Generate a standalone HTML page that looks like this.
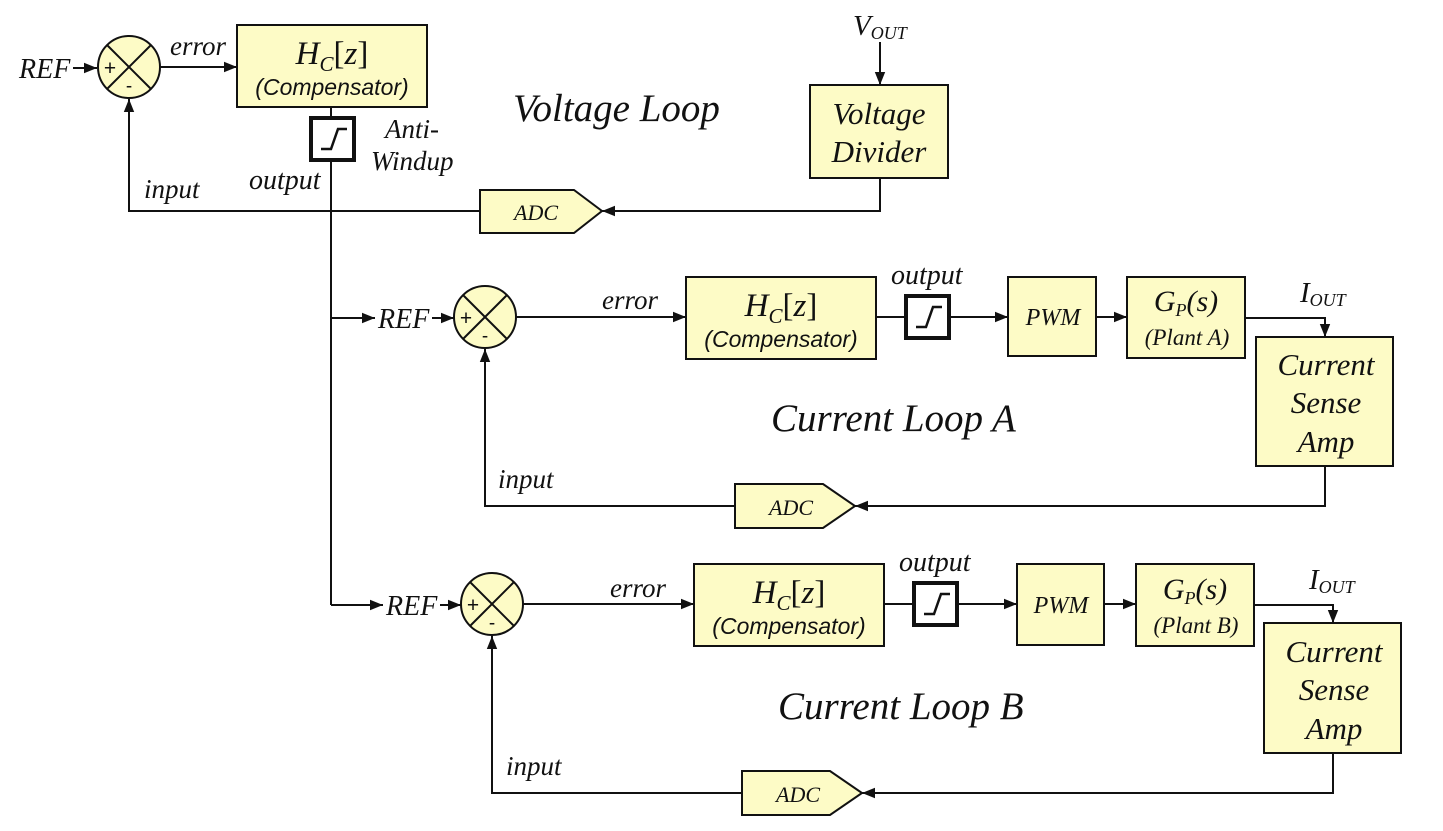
<!DOCTYPE html>
<html><head><meta charset="utf-8"><style>
html,body{margin:0;padding:0;background:#fff;}
svg{display:block;}
.b{fill:#fdfbc6;stroke:#111;stroke-width:2;}
.l{stroke:#111;stroke-width:2;fill:none;}
.t{font-family:"Liberation Serif",serif;font-style:italic;fill:#111;}
.s{font-family:"Liberation Sans",sans-serif;font-style:italic;fill:#111;}
</style></head><body>
<svg width="1443" height="831" viewBox="0 0 1443 831" xmlns="http://www.w3.org/2000/svg">
<defs>
<marker id="ab" viewBox="0 0 10 10" refX="10" refY="5" markerWidth="13" markerHeight="13" orient="auto" markerUnits="userSpaceOnUse"><path d="M0,1L10,5L0,9z" fill="#111"/></marker>
<g id="sum"><circle r="31" class="b"/><path class="l" d="M-22,-22L22,22M-22,22L22,-22"/>
<text x="-19" y="8" font-family="Liberation Sans,sans-serif" font-size="21" fill="#111" text-anchor="middle">+</text>
<text x="0" y="25" font-family="Liberation Sans,sans-serif" font-size="19" fill="#111" text-anchor="middle">-</text></g>
<g id="sat"><rect x="0" y="0" width="43" height="42" fill="#fff" stroke="#111" stroke-width="4"/><path d="M10,31H20L27,11H36" stroke="#111" stroke-width="2.5" fill="none"/></g>
<g id="comp"><rect width="190" height="82" class="b"/>
<text x="95" y="39" text-anchor="middle" font-family="Liberation Serif,serif" font-size="33" fill="#111"><tspan font-style="italic">H</tspan><tspan font-style="italic" font-size="21" dy="7">C</tspan><tspan dy="-7">[</tspan><tspan font-style="italic">z</tspan>]</text>
<text x="95" y="70" text-anchor="middle" class="s" font-size="23">(Compensator)</text></g>
</defs>

<!-- Voltage loop -->
<text x="19" y="78" class="t" font-size="28">REF</text>
<line x1="73" y1="68" x2="97" y2="68" class="l" marker-end="url(#ab)"/>
<use href="#sum" x="129" y="67"/>
<line x1="160" y1="67" x2="237" y2="67" class="l" marker-end="url(#ab)"/>
<text x="170" y="55" class="t" font-size="27">error</text>
<use href="#comp" x="237" y="25"/>
<line x1="331" y1="108" x2="331" y2="116" class="l"/>
<use href="#sat" x="311" y="118"/>
<text x="385" y="138" class="t" font-size="27">Anti-</text>
<text x="371" y="170" class="t" font-size="27">Windup</text>
<text x="249" y="189" class="t" font-size="28">output</text>
<text x="144" y="198" class="t" font-size="27">input</text>
<polyline points="480,211 129,211 129,99" class="l" marker-end="url(#ab)"/>
<path d="M480,190H574L602,211L574,233H480z" class="b"/>
<text x="536" y="220" text-anchor="middle" class="t" font-size="22">ADC</text>
<polyline points="880,178 880,211 602,211" class="l" marker-end="url(#ab)"/>
<rect x="810" y="85" width="138" height="93" class="b"/>
<text x="879" y="124" text-anchor="middle" class="t" font-size="31">Voltage</text>
<text x="879" y="162" text-anchor="middle" class="t" font-size="31">Divider</text>
<text x="853" y="35" class="t" font-size="29">V<tspan font-size="18" dy="4">OUT</tspan></text>
<line x1="880" y1="42" x2="880" y2="85" class="l" marker-end="url(#ab)"/>
<text x="513" y="121" class="t" font-size="39">Voltage Loop</text>

<line x1="331" y1="160" x2="331" y2="605" class="l"/>

<!-- Loop A -->
<line x1="331" y1="318" x2="375" y2="318" class="l" marker-end="url(#ab)"/>
<text x="378" y="328" class="t" font-size="28">REF</text>
<line x1="432" y1="318" x2="454" y2="318" class="l" marker-end="url(#ab)"/>
<use href="#sum" x="485" y="317"/>
<line x1="516" y1="317" x2="686" y2="317" class="l" marker-end="url(#ab)"/>
<text x="602" y="309" class="t" font-size="27">error</text>
<use href="#comp" x="686" y="277"/>
<line x1="876" y1="317" x2="906" y2="317" class="l"/>
<use href="#sat" x="906" y="296"/>
<text x="891" y="284" class="t" font-size="28">output</text>
<line x1="950" y1="317" x2="1008" y2="317" class="l" marker-end="url(#ab)"/>
<rect x="1008" y="277" width="88" height="79" class="b"/>
<text x="1053" y="325" text-anchor="middle" class="t" font-size="24">PWM</text>
<line x1="1096" y1="317" x2="1127" y2="317" class="l" marker-end="url(#ab)"/>
<rect x="1127" y="277" width="118" height="81" class="b"/>
<text x="1186" y="311" text-anchor="middle" class="t" font-size="30">G<tspan font-size="18" dy="5">P</tspan><tspan dy="-5">(s)</tspan></text>
<text x="1187" y="345" text-anchor="middle" class="t" font-size="23">(Plant A)</text>
<polyline points="1245,318 1325,318 1325,337" class="l" marker-end="url(#ab)"/>
<text x="1300" y="302" class="t" font-size="29">I<tspan font-size="18" dy="4">OUT</tspan></text>
<rect x="1256" y="337" width="137" height="129" class="b"/>
<text x="1326" y="375" text-anchor="middle" class="t" font-size="31">Current</text>
<text x="1326" y="413" text-anchor="middle" class="t" font-size="31">Sense</text>
<text x="1326" y="452" text-anchor="middle" class="t" font-size="31">Amp</text>
<polyline points="1325,466 1325,506 855,506" class="l" marker-end="url(#ab)"/>
<path d="M735,484H823L855,506L823,528H735z" class="b"/>
<text x="791" y="515" text-anchor="middle" class="t" font-size="22">ADC</text>
<polyline points="735,506 485,506 485,349" class="l" marker-end="url(#ab)"/>
<text x="498" y="488" class="t" font-size="27">input</text>
<text x="771" y="431" class="t" font-size="39">Current Loop A</text>

<!-- Loop B -->
<line x1="331" y1="605" x2="383" y2="605" class="l" marker-end="url(#ab)"/>
<text x="386" y="615" class="t" font-size="28">REF</text>
<line x1="440" y1="605" x2="461" y2="605" class="l" marker-end="url(#ab)"/>
<use href="#sum" x="492" y="604"/>
<line x1="523" y1="604" x2="694" y2="604" class="l" marker-end="url(#ab)"/>
<text x="610" y="597" class="t" font-size="27">error</text>
<use href="#comp" x="694" y="564"/>
<line x1="884" y1="604" x2="914" y2="604" class="l"/>
<use href="#sat" x="914" y="583"/>
<text x="899" y="571" class="t" font-size="28">output</text>
<line x1="958" y1="604" x2="1017" y2="604" class="l" marker-end="url(#ab)"/>
<rect x="1017" y="564" width="87" height="81" class="b"/>
<text x="1061" y="613" text-anchor="middle" class="t" font-size="24">PWM</text>
<line x1="1104" y1="604" x2="1136" y2="604" class="l" marker-end="url(#ab)"/>
<rect x="1136" y="564" width="118" height="82" class="b"/>
<text x="1195" y="599" text-anchor="middle" class="t" font-size="30">G<tspan font-size="18" dy="5">P</tspan><tspan dy="-5">(s)</tspan></text>
<text x="1196" y="633" text-anchor="middle" class="t" font-size="23">(Plant B)</text>
<polyline points="1254,605 1333,605 1333,623" class="l" marker-end="url(#ab)"/>
<text x="1309" y="589" class="t" font-size="29">I<tspan font-size="18" dy="4">OUT</tspan></text>
<rect x="1264" y="623" width="137" height="130" class="b"/>
<text x="1334" y="662" text-anchor="middle" class="t" font-size="31">Current</text>
<text x="1334" y="700" text-anchor="middle" class="t" font-size="31">Sense</text>
<text x="1334" y="739" text-anchor="middle" class="t" font-size="31">Amp</text>
<polyline points="1333,753 1333,793 862,793" class="l" marker-end="url(#ab)"/>
<path d="M742,771H830L862,793L830,815H742z" class="b"/>
<text x="798" y="802" text-anchor="middle" class="t" font-size="22">ADC</text>
<polyline points="742,793 492,793 492,636" class="l" marker-end="url(#ab)"/>
<text x="506" y="775" class="t" font-size="27">input</text>
<text x="778" y="719" class="t" font-size="39">Current Loop B</text>
</svg>
</body></html>
